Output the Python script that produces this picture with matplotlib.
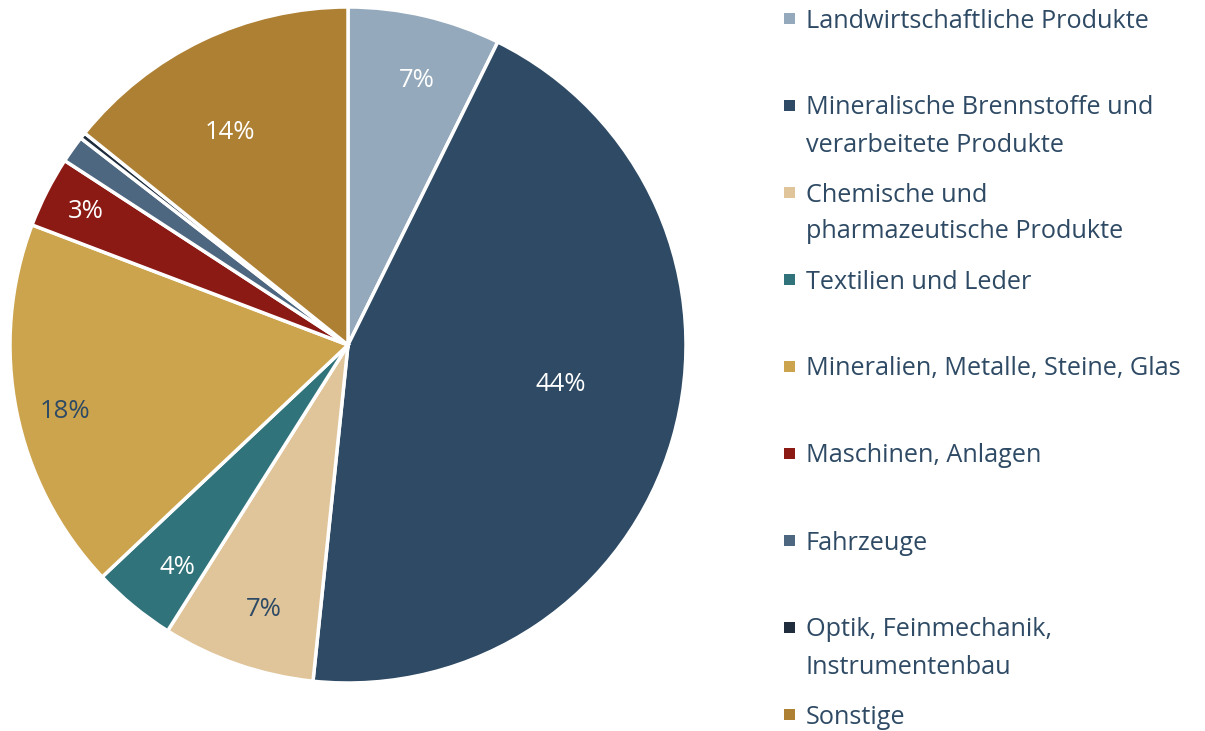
import matplotlib.pyplot as plt
import numpy as np
from matplotlib.patches import Rectangle

# Shares of exports by product group (percent)
categories = [
    "Landwirtschaftliche Produkte",
    "Mineralische Brennstoffe und\nverarbeitete Produkte",
    "Chemische und\npharmazeutische Produkte",
    "Textilien und Leder",
    "Mineralien, Metalle, Steine, Glas",
    "Maschinen, Anlagen",
    "Fahrzeuge",
    "Optik, Feinmechanik,\nInstrumentenbau",
    "Sonstige",
]
shares = [7.3, 44.3, 7.3, 4.0, 17.8, 3.4, 1.3, 0.3, 14.2]
show_label = [True, True, True, True, True, True, False, False, True]

colors = ["#94A9BC", "#2E4A64", "#E0C59A", "#31737A", "#CCA44D",
          "#8B1A14", "#4E6780", "#1F2D3D", "#AE8034"]
label_colors = ["white", "white", "#2E4A64", "white", "#2E4A64",
                "white", "white", "white", "white"]
label_radius = [0.81, 0.64, 0.82, 0.83, 0.86, 0.87, 0.8, 0.8, 0.72]
label_shift = [-1.4, 5.5, 1.5, 2.0, 2.0, 0, 0, 0, 3.5]   # degrees, ccw

text_color = "#2E4A64"
plt.rcParams["font.family"] = ["Open Sans", "DejaVu Sans"]

W, H = 1205, 731
fig = plt.figure(figsize=(W / 100, H / 100), dpi=100)

# pie axes: centre (348, 345) px, radius 338 px
cx, cy, r = 348, 345, 338
ax = fig.add_axes([(cx - r) / W, (H - cy - r) / H, 2 * r / W, 2 * r / H])
wedges, _ = ax.pie(
    shares,
    colors=colors,
    startangle=90,
    counterclock=False,
    radius=1.0,
    wedgeprops=dict(edgecolor="white", linewidth=2.5),
)
ax.set_xlim(-1, 1)
ax.set_ylim(-1, 1)
ax.set_aspect("equal")
ax.axis("off")

total = sum(shares)
for w, val, show, col, rad, sh in zip(wedges, shares, show_label, label_colors,
                                      label_radius, label_shift):
    if not show:
        continue
    mid = np.deg2rad((w.theta1 + w.theta2) / 2 + sh)
    ax.text(rad * np.cos(mid), rad * np.sin(mid), f"{round(val / total * 100):.0f}%",
            ha="center", va="center", color=col, fontsize=18.5)

# legend drawn by hand so the marker sits on the first line
x_box, x_text = 784, 806
y0, step, line_h = 18, 87, 37
for i, (lab, col) in enumerate(zip(categories, colors)):
    y = y0 + i * step
    fig.patches.append(Rectangle((x_box / W, 1 - (y + 6) / H), 11 / W, 11 / H,
                                 transform=fig.transFigure, facecolor=col,
                                 edgecolor="none"))
    for k, line in enumerate(lab.split("\n")):
        fig.text(x_text / W, 1 - (y + k * line_h) / H, line, ha="left",
                 va="center_baseline", color=text_color, fontsize=18.2)

fig.savefig("out.png", dpi=100, facecolor="white")
